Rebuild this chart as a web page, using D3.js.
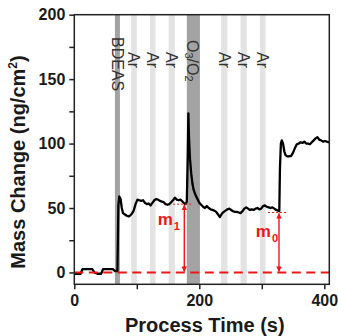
<!DOCTYPE html>
<meta charset="utf-8">
<style>
  body { margin: 0; background: #fff; }
  svg { display: block; font-family: "Liberation Sans", Arial, sans-serif; }
</style>
<body>
<svg width="338" height="336"></svg>
<script src="https://d3js.org/d3.v7.min.js"></script>
<script>

// QCM trace: process time (s) and mass change (ng/cm2)
var time = [0, 10, 13, 29, 32, 37, 43, 46, 62, 65, 69, 70.5, 72, 74, 76, 78, 81, 84, 87, 89,
  92, 95, 98, 101, 104, 107, 110, 113, 116, 119, 122, 125, 128, 131, 134, 137, 140, 143, 146, 149,
  152, 155, 158, 161, 164, 167, 170, 173, 176, 178, 180, 181.5, 182.5, 183.5, 185, 187, 189, 191, 194, 197,
  200, 203, 206, 209, 212, 215, 218, 221, 224, 227, 230, 233, 236, 239, 242, 245, 248, 251, 254, 257,
  260, 263, 266, 269, 272, 275, 278, 281, 284, 287, 290, 293, 296, 299, 302, 305, 308, 311, 314, 317,
  320, 323, 326, 328, 329, 330.5, 332, 334, 336, 338, 341, 344, 347, 350, 353, 356, 359, 362, 365, 368,
  371, 374, 377, 380, 383, 386, 389, 392, 395, 398, 401, 404, 408];
var mass = [-1, -1, 2.5, 2.5, 0, -1, -1, 2.5, 2.5, 1, 1, 52, 59, 57, 50, 46, 45, 44, 43.5, 44,
  45.5, 48, 53, 56.5, 56, 55.5, 56, 54, 53, 53.5, 52, 54, 56, 57, 56.5, 55.5, 55, 54.5, 53, 52.5,
  53, 54.5, 56, 58, 56.5, 56, 56.5, 55, 53.5, 53, 55, 90, 123.5, 105, 89, 77, 69, 64, 60, 57,
  54, 52.5, 51, 50, 51.5, 50, 49, 48.5, 48, 47, 45, 43, 45.5, 47, 48, 49, 49.5, 48.5, 47.5, 47,
  47, 46.5, 46, 47.5, 49.5, 50.5, 49.5, 48.5, 49, 48.5, 49.5, 50, 49, 49.5, 51.5, 52, 51, 50.5, 50, 50.5,
  49.5, 48.5, 48, 47.5, 80, 100, 102.5, 100, 94, 91, 90, 90, 90.5, 93, 96.5, 99.5, 100, 101, 100.5, 101.5,
  100, 100, 99.5, 101, 102.5, 104, 105, 103, 102.5, 101.5, 102, 101.5, 101];

// gas pulses: start, end, label
var pulseStart = [65, 91, 121, 151, 180, 235, 266, 297];
var pulseEnd   = [73, 100, 130, 161, 201, 245, 276, 306];
var pulseName  = ["BDEAS", "Ar", "Ar", "Ar", "O3/O2", "Ar", "Ar", "Ar"];

var xTicks = [0, 100, 200, 300, 400];
var yTicks = [0, 25, 50, 75, 100, 125, 150, 175, 200];

// m1 / m0 markers: time, top value
var markName = ["1", "0"];
var markTime = [176, 327.5];
var markTop  = [53, 46.5];

var svg = d3.select("svg");
var pLeft = 74.3, pRight = 329.3, pTop = 14.7, pBottom = 284.3;

var x = d3.scaleLinear().domain([0, 408]).range([pLeft, pRight]);
var y = d3.scaleLinear().domain([-9.2, 200]).range([pBottom, pTop]);

var red = "#ee1515";

// pulse bands
var pulses = pulseStart.map(function(s, i) {
  return { s: s, e: pulseEnd[i], name: pulseName[i] };
});

svg.append("g").selectAll("rect")
  .data(pulses).enter().append("rect")
    .attr("x", function(d) { return x(d.s); })
    .attr("width", function(d) { return x(d.e) - x(d.s); })
    .attr("y", pTop)
    .attr("height", pBottom - pTop)
    .attr("fill", function(d) { return d.name == "Ar" ? "#e3e3e3" : "#a3a3a3"; });

// labels on the bands, rotated to read downward
var labelTop = { "BDEAS": 37, "Ar": 52, "O3/O2": 40 };
var lab = svg.append("g").selectAll("text")
  .data(pulses).enter().append("text")
    .attr("transform", function(d) {
      return "translate(" + ((x(d.s) + x(d.e)) / 2) + "," + labelTop[d.name] + ") rotate(90)";
    })
    .attr("dominant-baseline", "central")
    .attr("font-size", 16)
    .attr("fill", "#333");

lab.each(function(d) {
  var t = d3.select(this);
  if (d.name == "O3/O2") {
    t.append("tspan").text("O");
    t.append("tspan").text("3").attr("font-size", 11).attr("dy", 4);
    t.append("tspan").text("/O").attr("dy", -4);
    t.append("tspan").text("2").attr("font-size", 11).attr("dy", 4);
  } else {
    t.text(d.name);
  }
});

// data trace
var pts = time.map(function(t, i) { return [t, mass[i]]; });
svg.append("path")
  .datum(pts)
  .attr("fill", "none")
  .attr("stroke", "#000")
  .attr("stroke-width", 2.3)
  .attr("stroke-linejoin", "round")
  .attr("d", d3.line().x(function(d) { return x(d[0]); }).y(function(d) { return y(d[1]); }));

// zero reference line
svg.append("line")
  .attr("x1", pLeft).attr("x2", pRight)
  .attr("y1", y(0)).attr("y2", y(0))
  .attr("stroke", red)
  .attr("stroke-width", 2)
  .attr("stroke-dasharray", "9,5.5");

// arrow markers
var defs = svg.append("defs");
defs.append("marker")
    .attr("id", "head")
    .attr("viewBox", "0 0 10 10")
    .attr("refX", 9).attr("refY", 5)
    .attr("markerWidth", 6).attr("markerHeight", 5.5)
    .attr("markerUnits", "userSpaceOnUse")
    .attr("orient", "auto-start-reverse")
  .append("path")
    .attr("d", "M0,0 L10,5 L0,10 Z")
    .attr("fill", red);

var guideFrom = [158, 310], guideTo = [188, 340];
var labelAt = [[133.5, 36.5], [290.5, 27.5]];

markName.forEach(function(n, i) {
  svg.append("line")
    .attr("x1", x(guideFrom[i])).attr("x2", x(guideTo[i]))
    .attr("y1", y(markTop[i])).attr("y2", y(markTop[i]))
    .attr("stroke", red)
    .attr("stroke-width", 1)
    .attr("stroke-dasharray", "2,2");

  svg.append("line")
    .attr("x1", x(markTime[i])).attr("x2", x(markTime[i]))
    .attr("y1", y(markTop[i]) + 1).attr("y2", y(0) - 1)
    .attr("stroke", red)
    .attr("stroke-width", 1.4)
    .attr("marker-start", "url(#head)")
    .attr("marker-end", "url(#head)");

  var t = svg.append("text")
    .attr("x", x(labelAt[i][0]))
    .attr("y", y(labelAt[i][1]))
    .attr("fill", red)
    .attr("font-weight", "bold")
    .attr("font-size", 17);
  t.append("tspan").text("m");
  t.append("tspan").text(n).attr("font-size", 11).attr("dy", 5).attr("dx", 1);
});

// axes
var yAxis = svg.append("g")
    .attr("transform", "translate(" + pLeft + ",0)")
    .call(d3.axisLeft(y).tickValues(yTicks)
      .tickFormat(function(d) { return d % 50 == 0 ? d : ""; })
      .tickSize(5).tickPadding(4));

var xAxis = svg.append("g")
    .attr("transform", "translate(0," + pBottom + ")")
    .call(d3.axisBottom(x).tickValues(xTicks)
      .tickFormat(function(d) { return d % 200 == 0 ? d : ""; })
      .tickSize(5).tickPadding(5.7));

[yAxis, xAxis].forEach(function(a) {
  a.select(".domain").remove();
  a.selectAll("line").attr("stroke", "#222").attr("stroke-width", 1.5);
  a.selectAll("text")
    .attr("font-family", "'Liberation Sans', Arial, sans-serif")
    .attr("font-size", 16)
    .attr("font-weight", "bold")
    .attr("fill", "#1a1a1a");
});

// frame
svg.append("rect")
  .attr("x", pLeft).attr("y", pTop)
  .attr("width", pRight - pLeft).attr("height", pBottom - pTop)
  .attr("fill", "none")
  .attr("stroke", "#222")
  .attr("stroke-width", 1.5);

// axis titles
svg.append("text")
  .attr("x", (pLeft + pRight) / 2 + 3)
  .attr("y", 331.5)
  .attr("text-anchor", "middle")
  .attr("font-size", 20)
  .attr("font-weight", "bold")
  .attr("fill", "#1a1a1a")
  .text("Process Time (s)");

var yt = svg.append("text")
  .attr("transform", "translate(25,162) rotate(-90)")
  .attr("text-anchor", "middle")
  .attr("font-size", 20)
  .attr("font-weight", "bold")
  .attr("fill", "#1a1a1a");
yt.append("tspan").text("Mass Change (ng/cm");
yt.append("tspan").text("2").attr("font-size", 12).attr("dy", -8);
yt.append("tspan").text(")").attr("dy", 8);

</script>
</body>
